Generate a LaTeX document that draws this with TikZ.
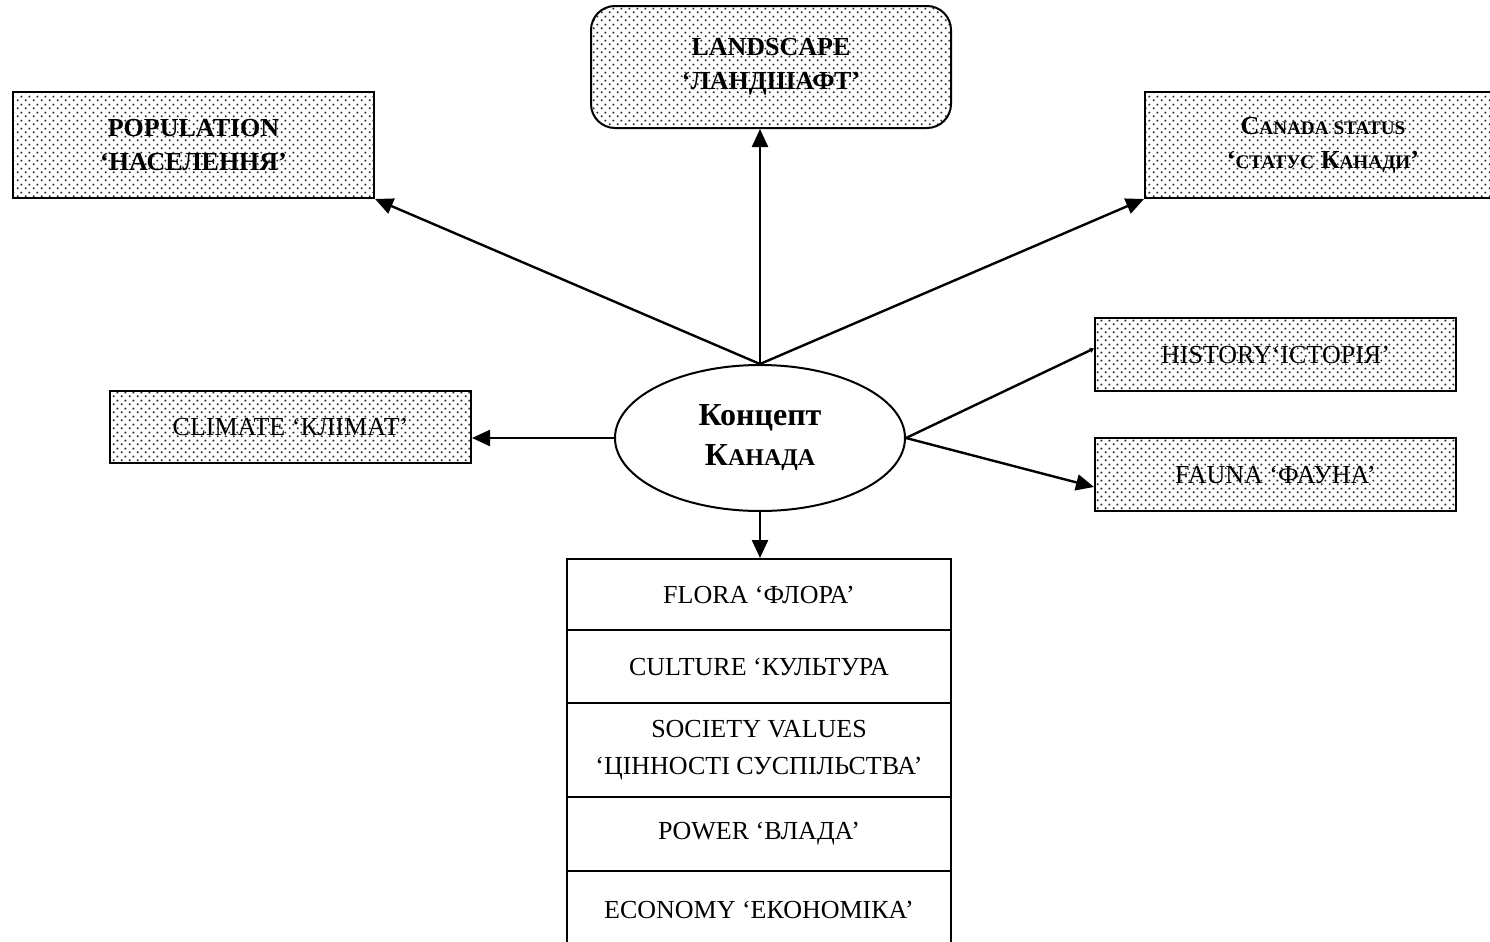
\documentclass[tikz,border=0pt]{standalone}
\usepackage{fontspec}
\setmainfont{Liberation Serif}
\usetikzlibrary{arrows.meta,patterns.meta,shapes.geometric,calc}

% staggered dot screen used as box fill
\tikzdeclarepattern{
  name=dotscreen,
  type=uncolored,
  bounding box={(0pt,0pt) and (4pt,4pt)},
  tile size={(4pt,4pt)},
  code={
    \fill (1pt,1pt) circle (0.62pt);
    \fill (3pt,3pt) circle (0.62pt);
  }
}

\newcommand\mainsize{\fontsize{13pt}{17pt}\selectfont}
\newcommand\lowcap[1]{{\fontsize{9.6pt}{9.6pt}\selectfont #1}}
\newcommand\biglowcap[1]{{\fontsize{12pt}{12pt}\selectfont #1}}

\tikzset{
  dotbox/.style={draw, line width=1pt, pattern=dotscreen, pattern color=black!80,
    inner sep=0pt, align=center, font=\mainsize},
  boldbox/.style={dotbox, font=\mainsize\bfseries},
  stackrow/.style={draw, line width=1pt, minimum width=192pt, inner sep=0pt,
    align=center, font=\fontsize{13pt}{18.5pt}\selectfont},
  conn/.style={line width=1.2pt, -{Triangle[length=9pt,width=8pt]}},
  thinconn/.style={line width=1.2pt, -{Triangle[length=2pt,width=2.5pt]}}
}

\begin{document}
\begin{tikzpicture}[x=0.5pt,y=-0.5pt]
\useasboundingbox (0,0) rectangle (1490,942);
\clip (0,0) rectangle (1490,942);

% central concept
\node[ellipse, draw, line width=1pt, minimum width=145pt, minimum height=73pt,
  inner sep=0pt, align=center, font=\fontsize{16pt}{20pt}\selectfont\bfseries]
  (c) at (760,438) {Концепт\\К\biglowcap{АНАДА}};

% surrounding topics
\node[boldbox, minimum width=180.5pt, minimum height=53pt] (pop) at (193.5,145)
  {POPULATION\\‘НАСЕЛЕННЯ’};
\node[boldbox, rounded corners=12pt, minimum width=180pt, minimum height=61pt] (land) at (771,67)
  {LANDSCAPE\\‘ЛАНДШАФТ’};
\node[boldbox, minimum width=178pt, minimum height=53pt] (can) at (1323,145)
  {C\lowcap{ANADA STATUS}\\‘\lowcap{СТАТУС} К\lowcap{АНАДИ}’};
\node[dotbox, minimum width=180.5pt, minimum height=36pt] (clim) at (290.5,427)
  {CLIMATE ‘КЛІМАТ’};
\node[dotbox, minimum width=180.5pt, minimum height=36.5pt] (hist) at (1275.5,354.5)
  {HISTORY‘ІСТОРІЯ’};
\node[dotbox, minimum width=180.5pt, minimum height=36.5pt] (fauna) at (1275.5,474.5)
  {FAUNA ‘ФАУНА’};

% stacked list below the concept
\node[stackrow, minimum height=35.5pt] (flora) at (759,594.5) {FLORA ‘ФЛОРА’};
\node[stackrow, minimum height=36.5pt] (cult) at (759,666.5) {CULTURE ‘КУЛЬТУРА};
\node[stackrow, minimum height=47pt] (soc) at (759,750) {SOCIETY VALUES\\‘ЦІННОСТІ СУСПІЛЬСТВА’};
\node[stackrow, minimum height=37pt] (pow) at (759,834) {POWER ‘ВЛАДА’};
\node[stackrow, minimum height=39pt] (eco) at (759,910) {ECONOMY ‘ЕКОНОМІКА’};

% connectors
\draw[conn] (c.north) -- (c.north |- land.south);
\draw[conn] (c.north) -- (pop.south east);
\draw[conn] (c.north) -- (can.south west);
\draw[conn] (c.west) -- (c.west -| clim.east);
\draw[thinconn] (c.east) -- ($(hist.west)+(0,-6)$);
\draw[conn] (c.east) -- ($(fauna.west)+(0,12.5)$);
\draw[conn] (c.south) -- (c.south |- flora.north);
\end{tikzpicture}
\end{document}
